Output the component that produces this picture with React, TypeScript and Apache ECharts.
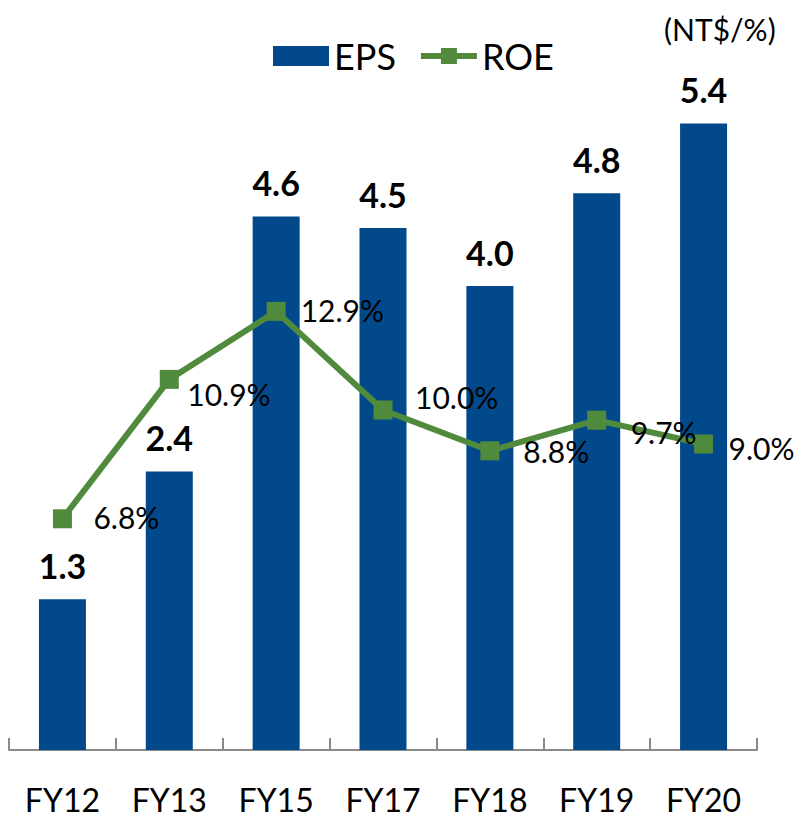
import React, { useEffect, useRef } from "react";
import * as echarts from "echarts";

const categories = ["FY12", "FY13", "FY15", "FY17", "FY18", "FY19", "FY20"];
const epsValues = [1.3, 2.4, 4.6, 4.5, 4.0, 4.8, 5.4];
const roeValues = [6.8, 10.9, 12.9, 10.0, 8.8, 9.7, 9.0];
const unitLabel = "(NT$/%)";

// label placement tweaks (style, not data)
const roeLabelOffsets: [number, number][] = [
  [21.5, -2],
  [8.5, 14.5],
  [15, -1],
  [22.5, -13],
  [24, 0],
  [24.5, 12],
  [15.5, 4.5],
];

const FONT = "Lato, 'Noto Sans', sans-serif";
const BLUE = "#02498B";
const GREEN = "#508A3C";

export default function App() {
  const ref = useRef<HTMLDivElement>(null);
  useEffect(() => {
    if (!ref.current) return;
    const chart = echarts.init(ref.current, undefined, { renderer: "svg" });
    chart.setOption({
      animation: false,
      backgroundColor: "#ffffff",
      textStyle: { fontFamily: FONT },
      grid: { left: 9, right: 41, top: 54, bottom: 69, containLabel: false },
      legend: {
        data: [
          { name: "EPS", icon: "rect" },
          { name: "ROE", lineStyle: { width: 6, color: GREEN } },
        ],
        left: 268,
        top: 33,
        itemWidth: 56,
        itemHeight: 20,
        itemGap: 22,
        textStyle: { fontSize: 36, color: "#000", fontFamily: FONT },
      },
      graphic: [
        {
          type: "text",
          left: 664,
          top: 14,
          style: { text: unitLabel, fontSize: 30, fill: "#000", fontFamily: FONT },
        },
      ],
      xAxis: {
        type: "category",
        data: categories,
        boundaryGap: true,
        axisLine: { lineStyle: { color: "#8a8a8a", width: 2 } },
        axisTick: {
          show: true,
          inside: true,
          interval: 0,
          alignWithLabel: false,
          length: 12,
          lineStyle: { color: "#8a8a8a", width: 2 },
        },
        axisLabel: { fontSize: 32, color: "#000", margin: 33, fontFamily: FONT },
      },
      yAxis: [
        { type: "value", min: 0, max: 6, show: false, splitLine: { show: false } },
        { type: "value", min: 0, max: 20.47, show: false, splitLine: { show: false } },
      ],
      series: [
        {
          name: "EPS",
          type: "bar",
          data: epsValues,
          barWidth: 47,
          itemStyle: { color: BLUE },
          label: {
            show: true,
            position: "top",
            distance: 17,
            fontSize: 34,
            fontWeight: "bold",
            color: "#000",
            fontFamily: FONT,
            formatter: (p: any) => Number(p.value).toFixed(1),
          },
        },
        {
          name: "ROE",
          type: "line",
          yAxisIndex: 1,
          data: roeValues.map((v, i) => ({
            value: v,
            label: { offset: roeLabelOffsets[i] },
          })),
          symbol: "rect",
          symbolSize: 19,
          lineStyle: { color: GREEN, width: 6 },
          itemStyle: { color: GREEN },
          label: {
            show: true,
            position: "right",
            distance: 0,
            fontSize: 30,
            color: "#000",
            fontFamily: FONT,
            formatter: (p: any) => Number(p.value).toFixed(1) + "%",
          },
        },
      ],
    });
    return () => chart.dispose();
  }, []);
  return (
    <div
      ref={ref}
      style={{ position: "fixed", left: 0, top: 0, width: 798, height: 819 }}
    />
  );
}
